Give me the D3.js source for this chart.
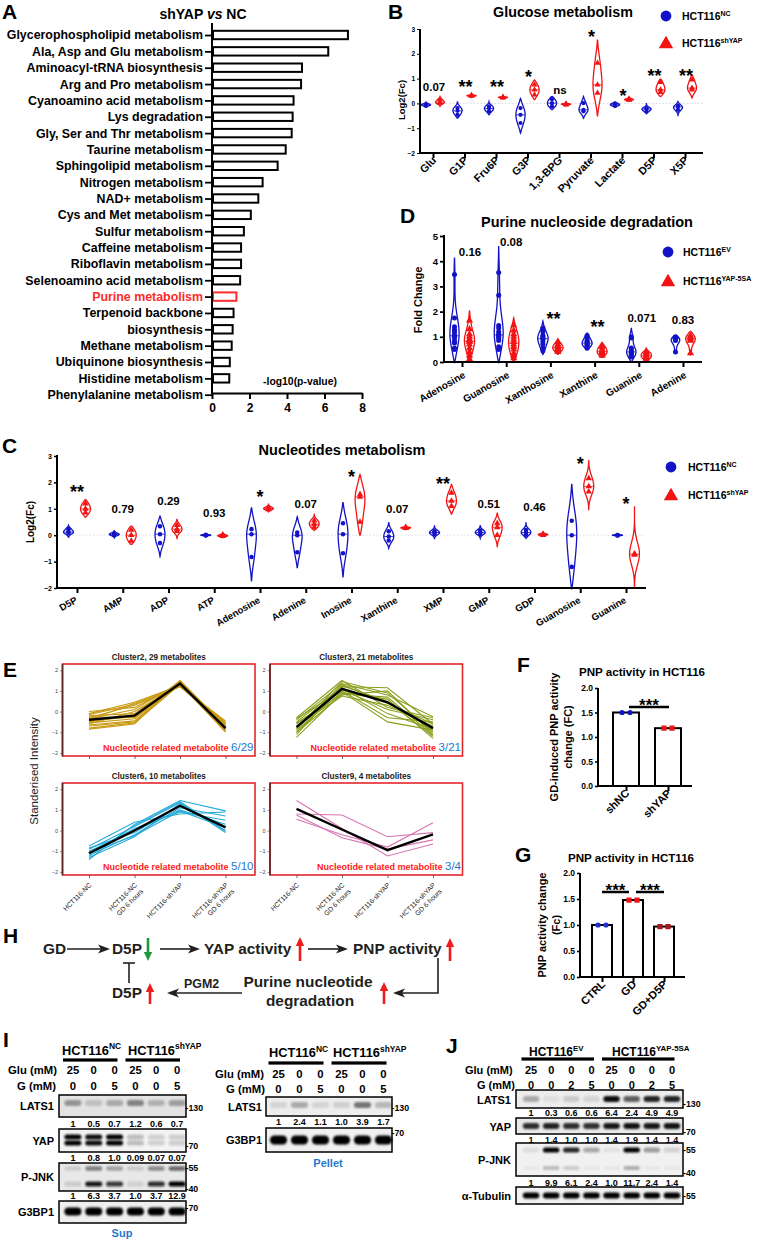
<!DOCTYPE html>
<html><head><meta charset="utf-8">
<script src="https://cdnjs.cloudflare.com/ajax/libs/d3/7.8.5/d3.min.js"></script>
<style>
html,body{margin:0;padding:0;background:#fff;}
svg{display:block;}
text{font-family:"Liberation Sans",Arial,Helvetica,sans-serif;}
</style></head><body>
<svg id="fig" width="759" height="1240" viewBox="0 0 759 1240"></svg>
<script>
// ================= DATA =================
// Panel A
const aCategories = ["Glycerophospholipid metabolism","Ala, Asp and Glu metabolism","Aminoacyl-tRNA biosynthesis","Arg and Pro metabolism","Cyanoamino acid metabolism","Lys degradation","Gly, Ser and Thr metabolism","Taurine metabolism","Sphingolipid metabolism","Nitrogen metabolism","NAD+ metabolism","Cys and Met metabolism","Sulfur metabolism","Caffeine metabolism","Riboflavin metabolism","Selenoamino acid metabolism","Purine metabolism","Terpenoid backbone","biosynthesis","Methane metabolism","Ubiquinone biosynthesis","Histidine metabolism","Phenylalanine metabolism"];
const aValues = [7.25,6.2,4.8,4.75,4.35,4.3,4.25,3.93,3.5,2.7,2.47,2.07,1.7,1.55,1.55,1.5,1.3,1.15,1.1,1.05,0.95,0.92,0];
const aTicks = [0,2,4,6,8];
const aHighlight = "Purine metabolism";

// Panel B (log2 fold change)
const bCategories = ["Glu","G1P","Fru6P","G3P","1,3-BPG","Pyruvate","Lactate","D5P","X5P"];
const bNCPoints = [[-0.03,-0.06,-0.1],[-0.19,-0.3,-0.46],[-0.12,-0.2,-0.32],[-0.19,-0.46,-0.79],[0.17,0.01,-0.12],[0.01,-0.26,-0.32],[0,-0.05,-0.1],[-0.2,-0.23,-0.32],[-0.1,-0.14,-0.26]];
const bNCRange = [[-0.15,0.05],[-0.6,0.08],[-0.46,0.08],[-1.2,0.2],[-0.25,0.28],[-0.6,0.28],[-0.14,0.04],[-0.42,0.02],[-0.52,0.08]];
const bShPoints = [[0.15,0.04,0.02],[0.3,0.31,0.33],[0.23,0.24,0.26],[0.75,0.55,0.35],[-0.02,-0.03,-0.05],[1.63,0.75,0.42],[0.19,0.15,0.14],[0.85,0.55,0.45],[0.95,0.62,0.55]];
const bShRange = [[-0.12,0.28],[0.25,0.38],[0.19,0.3],[0.15,0.95],[-0.1,0.03],[-0.52,2.57],[0.1,0.24],[0.28,0.98],[0.22,1.15]];
const bSig = ["0.07","**","**","*","ns","*","*","**","**"];
const bSigAt = [0.66,0.86,0.86,1.23,0.54,2.84,0.46,1.27,1.27];
const bTicks = [-2,-1,0,1,2,3];

// Panel C (log2 fold change)
const cCategories = ["D5P","AMP","ADP","ATP","Adenosine","Adenine","Inosine","Xanthine","XMP","GMP","GDP","Guanosine","Guanine"];
const cNCPoints = [[0.23,0.12,0.08],[0.06,0.03,0.0],[0.34,0.04,-0.3],[0.02,0.0,-0.01],[0.23,0.04,-0.83],[0.1,0.0,-0.65],[0.45,0.04,-0.68],[0.15,-0.05,-0.2],[0.15,0.1,0.05],[0.18,0.1,0.05],[0.2,0.1,0.02],[0.55,0.0,-1.2],[0.01,0.0,-0.01]];
const cNCRange = [[-0.1,0.38],[-0.1,0.2],[-0.8,0.72],[-0.05,0.05],[-1.75,1.05],[-1.25,0.7],[-1.6,1.25],[-0.5,0.5],[-0.15,0.38],[-0.12,0.38],[-0.12,0.5],[-2.0,1.95],[-0.05,0.05]];
const cShPoints = [[1.2,1.0,0.85],[0.2,0.0,-0.22],[0.38,0.23,0.15],[0.02,-0.02,-0.04],[1.05,1.0,0.98],[0.55,0.42,0.3],[1.55,1.45,0.5],[0.27,0.28,0.3],[1.6,1.3,1.1],[0.45,0.3,0.0],[0.02,0.05,0.0],[2.15,1.85,1.65],[-0.7,-0.72,-0.75]];
const cShRange = [[0.68,1.35],[-0.35,0.35],[-0.15,0.62],[-0.1,0.06],[0.88,1.2],[0.18,0.78],[0.0,2.3],[0.22,0.35],[0.8,1.92],[-0.45,0.85],[-0.03,0.12],[0.95,2.85],[-2.0,1.1]];
const cSig = ["**","0.79","0.29","0.93","*","0.07","*","0.07","**","0.51","0.46","*","*"];
const cSigAt = [1.81,0.98,1.28,0.83,1.62,1.17,2.38,0.98,2.11,1.17,1.05,2.87,1.36];
const cTicks = [-2,-1,0,1,2,3];

// Panel D (fold change)
const dCategories = ["Adenosine","Guanosine","Xanthosine","Xanthine","Guanine","Adenine"];
const dEVPoints = [[3.47,1.75,1.4,1.28,1.2,1.08,1.0,0.95,0.82,0.75,0.55,0.5],[3.55,2.65,1.45,1.35,1.2,1.1,1.05,1.0,0.95,0.85,0.6,0.5],[1.35,1.2,1.05,1.0,0.95,0.9,0.8,0.7,0.55,0.45],[1.05,0.95,0.85,0.8,0.75,0.7,0.65,0.6,0.55],[1.0,0.95,0.55,0.45,0.4,0.35,0.3,0.25,0.2],[1.0,0.98,0.95,0.9,0.85,0.4]];
const dEVRange = [[0,4.15],[0,4.6],[0.3,1.62],[0.5,1.15],[0,1.35],[0.35,1.05]];
const d5SAPoints = [[1.65,1.3,1.1,1.0,0.9,0.85,0.8,0.7,0.55,0.4,0.25,0.12],[1.45,1.25,1.1,1.0,0.9,0.8,0.7,0.6,0.5,0.35,0.25,0.15],[0.8,0.7,0.65,0.6,0.55,0.5,0.45,0.4],[0.65,0.6,0.5,0.45,0.4,0.35,0.3,0.25],[0.4,0.35,0.3,0.25,0.2,0.15,0.1],[1.05,1.0,0.95,0.9,0.85,0.35]];
const d5SARange = [[0.02,2.05],[0.02,1.75],[0.3,0.92],[0.18,0.78],[0.0,0.58],[0.28,1.22]];
const dSig = ["0.16","0.08","**","**","0.071","0.83"];
const dSigAt = [4.37,4.76,1.9,1.55,1.75,1.67];
const dTicks = [0,1,2,3,4,5];

// Panel E (standardised intensity)
const eConditions = ["HCT116-NC","HCT116-NC GD 6 hours","HCT116-shYAP","HCT116-shYAP GD 6 hours"];
const eLabelLines = [["HCT116-NC"],["HCT116-NC","GD 6 hours"],["HCT116-shYAP"],["HCT116-shYAP","GD 6 hours"]];
const eTitles = ["Cluster2, 29 metabolites","Cluster3, 21 metabolites","Cluster6, 10 metabolites","Cluster9, 4 metabolites"];
const eFractions = ["6/29","3/21","5/10","3/4"];
const eTicks = [-2,-1,0,1,2];
const c2Lines = [[-0.55,-0.35,1.35,-0.75],[-0.8,-0.55,1.3,-0.95],[-0.3,0.3,1.2,-0.6],[-0.1,0.45,1.25,-0.5],[-0.2,-0.1,1.45,-0.9],[-0.65,-0.45,1.4,-0.85],[0.0,0.2,1.3,-0.55],[-0.45,-0.25,1.5,-0.7],[-0.35,0.1,1.4,-0.65],[-0.7,-0.5,1.35,-1.0],[-0.15,0.35,1.2,-0.45],[-0.5,-0.15,1.45,-0.8],[-0.25,-0.3,1.35,-0.95],[-0.6,0.0,1.3,-0.6],[-0.4,0.4,1.25,-0.75],[-0.85,-0.6,1.5,-0.85]];
const c2Mean = [-0.4,-0.2,1.35,-0.8];
const c3Lines = [[-1.25,0.9,0.6,-1.3],[-0.3,1.5,0.2,-0.3],[-0.5,1.2,1.15,-0.6],[-1.0,0.8,1.0,-1.1],[-0.9,0.95,-0.5,-0.9],[-0.4,1.35,0.8,-0.25],[-0.6,1.0,-0.3,-0.5],[-1.1,1.25,0.5,-1.2],[-0.7,0.75,0.3,-0.7],[-0.8,1.45,0.9,-1.0],[-0.35,1.05,0.1,-0.4],[-1.0,1.15,-0.1,-0.85],[-0.55,0.85,0.7,-1.15],[-0.85,1.3,0.4,-0.6]];
const c3Mean = [-0.75,1.1,0.45,-0.8];
const c6Lines = [[-1.4,0.3,1.45,0.95],[-0.75,0.4,0.8,0.9],[-1.2,-0.2,1.1,0.7],[-1.0,0.0,1.0,0.3],[-0.9,0.2,1.35,-0.1],[-1.3,-0.3,1.3,0.0],[-1.1,0.1,0.9,0.5],[-0.85,-0.1,1.2,0.2],[-1.25,0.25,1.4,-0.05],[-1.05,-0.25,0.95,0.15]];
const c6Mean = [-1.1,0.0,1.2,0.15];
const c9Lines = [[1.45,0.1,-1.23,-0.65],[0.8,0.75,-0.3,-0.1],[0.55,-0.2,-0.8,0.38],[0.75,-0.35,-0.9,-0.45]];
const c9Mean = [1.05,0.05,-0.95,-0.18];

// Panels F and G
const fGroups = ["shNC","shYAP"];
const fMeans = [1.5,1.18];
const fPoints = [[1.5,1.5],[1.18,1.18]];
const gGroups = ["CTRL","GD","GD+D5P"];
const gMeans = [1.0,1.48,0.97];
const gPoints = [[1.0,1.0],[1.48,1.48],[0.97,0.97]];
const pnpTicks = [0,0.5,1.0,1.5,2.0];

// Panels I and J (western blots)
const iGlu = ["25","0","0","25","0","0"];
const iG = ["0","0","5","0","0","5"];
const iSupLATS1 = ["1","0.5","0.7","1.2","0.6","0.7"];
const iSupYAP = ["1","0.8","1.0","0.09","0.07","0.07"];
const iSupPJNK = ["1","6.3","3.7","1.0","3.7","12.9"];
const iPelletLATS1 = ["1","2.4","1.1","1.0","3.9","1.7"];
const iBandLATS1 = [0.35,0.15,0.25,0.42,0.22,0.3];
const iBandYAP = [1,0.95,1,0.22,0.14,0.15];
const iBandPJNKup = [0.12,0.45,0.3,0.12,0.4,0.55];
const iBandPJNKlow = [0.12,0.9,0.75,0.1,0.8,1.0];
const iBandG3BP1 = [1,1,1,1,1,1];
const iBandPelLATS1 = [0.1,0.28,0.1,0.12,0.5,0.22];
const jGlu = ["25","0","0","0","25","0","0","0"];
const jG = ["0","0","2","5","0","0","2","5"];
const jLATS1 = ["1","0.3","0.6","0.6","6.4","2.4","4.9","4.9"];
const jYAP = ["1","1.4","1.0","1.0","1.4","1.9","1.4","1.4"];
const jPJNK = ["1","9.9","6.1","2.4","1.0","11.7","2.4","1.4"];
const jBandLATS1 = [0.28,0.06,0.14,0.1,0.95,0.6,0.85,0.85];
const jBandYAP = [0.8,0.85,0.8,0.78,0.9,0.92,0.9,0.92];
const jBandPJNKup = [0.08,1,0.85,0.3,0.06,1,0.35,0.12];
const jBandPJNKlow = [0.04,0.22,0.15,0.04,0.04,0.28,0.04,0.04];
const jBandTub = [1,1,1,1,1,1,1,1];

// ================= DRAWING =================
const svg = d3.select("#fig");
svg.append("rect").attr("width",759).attr("height",1240).attr("fill","#fff");
const defs = svg.append("defs");
defs.append("filter").attr("id","blur").attr("x","-30%").attr("y","-80%").attr("width","160%").attr("height","260%")
  .append("feGaussianBlur").attr("stdDeviation",1.1);
const BLUE = "#1212c6", RED = "#f21414", LBLUE = "#1f78cc";
const intFmt = d3.format("d");

function T(g, x, y, s, size, o = {}) {
  const t = g.append("text").attr("x", x).attr("y", y).attr("font-size", size)
    .attr("font-weight", o.weight || "bold").attr("text-anchor", o.anchor || "start")
    .attr("fill", o.fill || "#000").text(s);
  if (o.rotate !== undefined) t.attr("transform", `rotate(${o.rotate},${x},${y})`);
  if (o.style) t.attr("font-style", o.style);
  return t;
}
function supText(g, x, y, base, sup, size, supSize, anchor) {
  const t = g.append("text").attr("x", x).attr("y", y).attr("font-size", size)
    .attr("font-weight", "bold").attr("text-anchor", anchor || "start");
  t.append("tspan").text(base);
  t.append("tspan").attr("dy", -size * 0.4).attr("font-size", supSize).text(sup);
  return t;
}
function violin(g, cx, y, pts, rng, color, halfW, shape, ptSize) {
  const lo = rng[0], hi = rng[1], R = hi - lo;
  const n = pts.length, sd = d3.deviation(pts) || 0;
  const h = Math.max(1.06 * sd * Math.pow(n, -0.2), R / 7, 1e-3);
  const N = 60;
  const prof = d3.range(N + 1).map(i => {
    const v = lo + R * i / N;
    return { v, i, d: d3.sum(pts, p => Math.exp(-0.5 * ((v - p) / h) ** 2)) };
  });
  const mx = d3.max(prof, p => p.d);
  prof.forEach(p => { p.w = halfW * (p.d / mx) * Math.pow(Math.sin(Math.PI * p.i / N), 0.4); });
  const area = d3.area().curve(d3.curveBasis).y(p => y(p.v)).x0(p => cx - p.w).x1(p => cx + p.w);
  g.append("path").attr("d", area(prof)).attr("fill", "#fff").attr("stroke", color).attr("stroke-width", 1.3);
  const med = d3.median(pts);
  const pm = prof[Math.max(0, Math.min(N, Math.round((med - lo) / R * N)))];
  g.append("line").attr("x1", cx - pm.w).attr("x2", cx + pm.w).attr("y1", y(med)).attr("y2", y(med))
    .attr("stroke", color).attr("stroke-width", 0.8);
  const sym = d3.symbol().type(shape === "tri" ? d3.symbolTriangle : d3.symbolCircle).size(ptSize);
  g.selectAll(null).data(pts).join("path").attr("d", sym)
    .attr("transform", p => `translate(${cx},${y(p)})`).attr("fill", color);
}
function legend(g, x, y1, y2, sup1, sup2, tx) {
  g.append("circle").attr("cx", x).attr("cy", y1).attr("r", 5.4).attr("fill", BLUE);
  g.append("path").attr("d", d3.symbol().type(d3.symbolTriangle).size(90)())
    .attr("transform", `translate(${x},${y2 + 1})`).attr("fill", RED);
  supText(g, tx, y1 + 4, "HCT116", sup1, 10.5, 7);
  supText(g, tx, y2 + 4, "HCT116", sup2, 10.5, 7);
}
function sigText(g, x, cy, s, numSize) {
  const ast = s.indexOf("*") >= 0;
  if (ast) T(g, x, cy + 10.5, s, 18, { anchor: "middle" });
  else if (s === "ns") T(g, x, cy + 3.5, s, numSize, { anchor: "middle" });
  else T(g, x, cy + 4, s, numSize, { anchor: "middle" });
}

// panel letters
[["A",2,19],["B",388,19],["D",400,223],["C",2,453],["E",3,677],["F",517,672],["G",515,862],["H",3,943],["I",3,1047],["J",446,1053]]
  .forEach(p => T(svg, p[1], p[2], p[0], 21));

// ---------- Panel A ----------
(function () {
  const g = svg.append("g");
  const x = d3.scaleLinear().domain([0, 8]).range([212, 362]);
  const y = d3.scalePoint().domain(aCategories).range([35, 394.7]);
  g.selectAll("rect").data(aCategories).join("rect")
    .attr("x", x(0) + 1).attr("y", d => y(d) - 4.2).attr("height", 8.4)
    .attr("width", (d, i) => Math.max(0, x(aValues[i]) - x(0) - 1))
    .attr("fill", "#fff").attr("stroke", d => d === aHighlight ? "#ff2a2a" : "#000").attr("stroke-width", 2)
    .style("display", (d, i) => aValues[i] > 0 ? null : "none");
  const ya = g.append("g").attr("transform", "translate(212,0)")
    .call(d3.axisLeft(y).tickSize(7).tickPadding(2).tickSizeOuter(0));
  ya.select(".domain").remove();
  ya.selectAll(".tick line").attr("stroke-width", 1.8);
  ya.selectAll(".tick text").attr("font-size", 12.4).attr("font-weight", "bold")
    .attr("fill", d => d === aHighlight ? "#ff2a2a" : "#000");
  g.append("line").attr("x1", 212).attr("x2", 212).attr("y1", 23).attr("y2", 394).attr("stroke", "#000").attr("stroke-width", 2);
  const xa = g.append("g").attr("transform", "translate(0,393)")
    .call(d3.axisBottom(x).tickValues(aTicks).tickSize(6).tickPadding(4).tickSizeOuter(0));
  xa.select(".domain").attr("stroke-width", 2);
  xa.selectAll(".tick line").attr("stroke-width", 2);
  xa.selectAll(".tick text").attr("font-size", 12).attr("font-weight", "bold");
  const t = g.append("text").attr("x", 203).attr("y", 19).attr("text-anchor", "middle").attr("font-size", 14).attr("font-weight", "bold");
  t.append("tspan").text("shYAP ");
  t.append("tspan").attr("font-style", "italic").text("vs");
  t.append("tspan").text(" NC");
  T(g, 300, 385, "-log10(p-value)", 10.4, { anchor: "middle" });
})();

// ---------- Panel B ----------
(function () {
  const g = svg.append("g");
  const x = d3.scalePoint().domain(bCategories).range([433, 685]);
  const y = d3.scaleLinear().domain([-2, 3]).range([153, 29]);
  g.append("line").attr("x1", 421).attr("x2", 703).attr("y1", y(0)).attr("y2", y(0))
    .attr("stroke", "#c8c8c8").attr("stroke-width", 0.7).attr("stroke-dasharray", "1.5,2");
  bCategories.forEach((c, i) => {
    violin(g, x(c) - 7, y, bNCPoints[i], bNCRange[i], BLUE, 4.6, "circle", 14);
    violin(g, x(c) + 7, y, bShPoints[i], bShRange[i], RED, 4.6, "tri", 16);
  });
  const ya = g.append("g").attr("transform", "translate(420,0)")
    .call(d3.axisLeft(y).tickValues(bTicks).tickFormat(intFmt).tickSize(3).tickPadding(2).tickSizeOuter(0));
  ya.select(".domain").remove();
  ya.selectAll(".tick text").attr("font-size", 6.5).attr("font-weight", "bold");
  g.append("line").attr("x1", 420).attr("x2", 420).attr("y1", 29).attr("y2", 154).attr("stroke", "#000").attr("stroke-width", 2);
  const xa = g.append("g").attr("transform", "translate(0,153)")
    .call(d3.axisBottom(x).tickSize(5).tickFormat(""));
  xa.select(".domain").remove();
  xa.selectAll(".tick line").attr("stroke-width", 2);
  g.append("line").attr("x1", 419).attr("x2", 703).attr("y1", 153).attr("y2", 153).attr("stroke", "#000").attr("stroke-width", 2);
  g.selectAll("text.xl").data(bCategories).join("text").attr("class", "xl")
    .attr("transform", d => `translate(${x(d) + 4},161) rotate(-45)`)
    .attr("text-anchor", "end").attr("font-size", 10.8).attr("font-weight", "bold").text(d => d);
  bSig.forEach((s, i) => sigText(g, x(bCategories[i]) + 1, y(bSigAt[i]), s, 11.5));
  T(g, 402, 100, "Log2(Fc)", 9.5, { anchor: "middle", rotate: -90 }).attr("dy", "0.35em");
  T(g, 563, 17, "Glucose metabolism", 14.3, { anchor: "middle" });
  legend(g, 666, 16, 43, "NC", "shYAP", 682);
})();

// ---------- Panel D ----------
(function () {
  const g = svg.append("g");
  const x = d3.scalePoint().domain(dCategories).range([462, 683]);
  const y = d3.scaleLinear().domain([0, 5]).range([362, 236]);
  dCategories.forEach((c, i) => {
    violin(g, x(c) - 7.5, y, dEVPoints[i], dEVRange[i], BLUE, 5.2, "circle", 20);
    violin(g, x(c) + 7.5, y, d5SAPoints[i], d5SARange[i], RED, 5.2, "tri", 22);
  });
  const ya = g.append("g").attr("transform", "translate(444,0)")
    .call(d3.axisLeft(y).tickValues(dTicks).tickFormat(intFmt).tickSize(4).tickPadding(2).tickSizeOuter(0));
  ya.select(".domain").remove();
  ya.selectAll(".tick line").attr("stroke-width", 1.8);
  ya.selectAll(".tick text").attr("font-size", 9.5).attr("font-weight", "bold");
  g.append("line").attr("x1", 444).attr("x2", 444).attr("y1", 235).attr("y2", 363).attr("stroke", "#000").attr("stroke-width", 2);
  const xa = g.append("g").attr("transform", "translate(0,362)")
    .call(d3.axisBottom(x).tickSize(5).tickFormat(""));
  xa.select(".domain").remove();
  xa.selectAll(".tick line").attr("stroke-width", 2);
  g.append("line").attr("x1", 443).attr("x2", 702).attr("y1", 362).attr("y2", 362).attr("stroke", "#000").attr("stroke-width", 2);
  g.selectAll("text.xl").data(dCategories).join("text").attr("class", "xl")
    .attr("transform", d => `translate(${x(d) + 4},377) rotate(-30)`)
    .attr("text-anchor", "end").attr("font-size", 10).attr("font-weight", "bold").text(d => d);
  const dx = [8, 5, 3, 3, 3, 0];
  dSig.forEach((s, i) => sigText(g, x(dCategories[i]) + dx[i], y(dSigAt[i]), s, 11.5));
  T(g, 418, 300, "Fold Change", 11, { anchor: "middle", rotate: -90 }).attr("dy", "0.35em");
  T(g, 587, 227, "Purine nucleoside degradation", 14.5, { anchor: "middle" });
  legend(g, 668, 252, 281, "EV", "YAP-5SA", 683);
})();

// ---------- Panel C ----------
(function () {
  const g = svg.append("g");
  const x = d3.scalePoint().domain(cCategories).range([77, 626]);
  const y = d3.scaleLinear().domain([-2, 3]).range([588, 456]);
  g.append("line").attr("x1", 58).attr("x2", 646).attr("y1", y(0)).attr("y2", y(0))
    .attr("stroke", "#cfcfe8").attr("stroke-width", 0.7).attr("stroke-dasharray", "1.5,2");
  cCategories.forEach((c, i) => {
    violin(g, x(c) - 8.5, y, cNCPoints[i], cNCRange[i], BLUE, 5, "circle", 16);
    violin(g, x(c) + 8.5, y, cShPoints[i], cShRange[i], RED, 5, "tri", 18);
  });
  const ya = g.append("g").attr("transform", "translate(57,0)")
    .call(d3.axisLeft(y).tickValues(cTicks).tickFormat(intFmt).tickSize(3).tickPadding(2).tickSizeOuter(0));
  ya.select(".domain").remove();
  ya.selectAll(".tick line").attr("stroke-width", 1.5);
  ya.selectAll(".tick text").attr("font-size", 7).attr("font-weight", "bold");
  g.append("line").attr("x1", 57).attr("x2", 57).attr("y1", 455).attr("y2", 589).attr("stroke", "#000").attr("stroke-width", 2);
  const xa = g.append("g").attr("transform", "translate(0,588)")
    .call(d3.axisBottom(x).tickSize(5).tickFormat(""));
  xa.select(".domain").remove();
  xa.selectAll(".tick line").attr("stroke-width", 2);
  g.append("line").attr("x1", 56).attr("x2", 646).attr("y1", 588).attr("y2", 588).attr("stroke", "#000").attr("stroke-width", 2);
  g.selectAll("text.xl").data(cCategories).join("text").attr("class", "xl")
    .attr("transform", d => `translate(${x(d) + 1},602) rotate(-30)`)
    .attr("text-anchor", "end").attr("font-size", 9.6).attr("font-weight", "bold").text(d => d);
  cSig.forEach((s, i) => sigText(g, x(cCategories[i]), y(cSigAt[i]), s, 11.5));
  T(g, 30, 522, "Log2(Fc)", 10, { anchor: "middle", rotate: -90 }).attr("dy", "0.35em");
  T(g, 342, 455, "Nucleotides metabolism", 14.5, { anchor: "middle" });
  legend(g, 671, 467, 495, "NC", "shYAP", 688);
})();

// ---------- Panel E ----------
(function () {
  const g = svg.append("g");
  const boxes = [[62.5, 664], [270, 664], [62.5, 783], [270, 783]];
  const lineSets = [c2Lines, c3Lines, c6Lines, c9Lines];
  const means = [c2Mean, c3Mean, c6Mean, c9Mean];
  const colors = ["#c99a14", "#8c9e1c", "#27a9d8", "#d874b2"];
  const W = 192.5, H = 92;
  boxes.forEach((b, k) => {
    const x0 = b[0], y0 = b[1];
    const x = d3.scalePoint().domain(eConditions).range([x0 + 26.5, x0 + 163]);
    const y = d3.scaleLinear().domain([-2.15, 2.3]).range([y0 + H, y0]);
    const line = d3.line().x((d, i) => x(eConditions[i])).y(d => y(d));
    g.selectAll(null).data(lineSets[k]).join("path").attr("d", line)
      .attr("fill", "none").attr("stroke", colors[k]).attr("stroke-width", 1.1);
    g.append("path").attr("d", line(means[k])).attr("fill", "none").attr("stroke", "#000").attr("stroke-width", 2.4);
    g.append("rect").attr("x", x0).attr("y", y0).attr("width", W).attr("height", H)
      .attr("fill", "none").attr("stroke", "#e3262b").attr("stroke-width", 1.6);
    g.append("line").attr("x1", x0).attr("x2", x0).attr("y1", y0).attr("y2", y0 + H).attr("stroke", "#5a2620").attr("stroke-width", 1.6);
    const ya = g.append("g").attr("transform", `translate(${x0},0)`)
      .call(d3.axisLeft(y).tickValues(eTicks).tickSize(2.5).tickPadding(2).tickFormat(d => d === 0 ? "0" : (d < 0 ? "\u2212" + (-d) : d)));
    ya.select(".domain").remove();
    ya.selectAll(".tick line").attr("stroke", "#444").attr("stroke-width", 0.6);
    ya.selectAll(".tick text").attr("font-size", 5.5).attr("fill", "#444");
    const xa = g.append("g").attr("transform", `translate(0,${y0 + H})`)
      .call(d3.axisBottom(x).tickSize(3).tickFormat(""));
    xa.select(".domain").remove();
    xa.selectAll(".tick line").attr("stroke", "#444").attr("stroke-width", 0.8);
    T(g, x0 + W / 2, y0 - 4, eTitles[k], 8.2, { anchor: "middle", fill: "#222" });
    const ft = g.append("text").attr("x", x0 + W - 1.5).attr("y", y0 + 86.5).attr("text-anchor", "end");
    ft.append("tspan").attr("font-size", 9).attr("font-weight", "bold").attr("fill", "#ff2020").text("Nucleotide related metabolite ");
    ft.append("tspan").attr("font-size", 11.5).attr("fill", LBLUE).text(eFractions[k]);
    if (k >= 2) {
      eLabelLines.forEach((ls, i) => {
        const tl = g.append("text").attr("transform", `translate(${x(eConditions[i]) + 3},885.5) rotate(-45)`)
          .attr("text-anchor", "end").attr("font-size", 6.8).attr("fill", "#222");
        ls.forEach((s, j) => tl.append("tspan").attr("x", 0).attr("dy", j === 0 ? 0 : "1.3em").text(s));
      });
    }
  });
  T(g, 34, 771, "Standerised Intensity", 11.5, { anchor: "middle", rotate: -90, weight: "normal", fill: "#222" }).attr("dy", "0.35em");
})();

// ---------- Bar panels F & G ----------
function pnpPanel(groups, means, points, ax, x0, x1, yTop, yBot, bw, ptColors, title, titleX, titleY, ylab, ylabX, sigs) {
  const g = svg.append("g");
  const x = d3.scalePoint().domain(groups).range([x0, x1]);
  const y = d3.scaleLinear().domain([0, 2]).range([yBot, yTop]);
  g.selectAll("rect").data(groups).join("rect")
    .attr("x", d => x(d) - bw / 2).attr("width", bw)
    .attr("y", (d, i) => y(means[i])).attr("height", (d, i) => y(0) - y(means[i]))
    .attr("fill", "#fff").attr("stroke", "#000").attr("stroke-width", 2);
  groups.forEach((gr, i) => {
    g.selectAll(null).data(points[i]).join("rect")
      .attr("x", (d, j) => x(gr) + (j === 0 ? -4 : 4) - 2.6).attr("y", d => y(d) - 2.6)
      .attr("width", 5.2).attr("height", 5.2).attr("rx", ptColors[i][1] ? 2.6 : 0.5)
      .attr("fill", ptColors[i][0]);
  });
  const ya = g.append("g").attr("transform", `translate(${ax},0)`)
    .call(d3.axisLeft(y).tickValues(pnpTicks).tickSize(3).tickPadding(2).tickFormat(d3.format(".1f")).tickSizeOuter(0));
  ya.select(".domain").remove();
  ya.selectAll(".tick line").attr("stroke-width", 1.6);
  ya.selectAll(".tick text").attr("font-size", 8.5).attr("font-weight", "bold");
  g.append("line").attr("x1", ax).attr("x2", ax).attr("y1", yTop).attr("y2", yBot + 1).attr("stroke", "#000").attr("stroke-width", 2);
  const xa = g.append("g").attr("transform", `translate(0,${yBot})`).call(d3.axisBottom(x).tickSize(5).tickFormat(""));
  xa.select(".domain").remove();
  xa.selectAll(".tick line").attr("stroke-width", 2);
  g.append("line").attr("x1", ax - 1).attr("x2", x1 + bw / 2 + 11).attr("y1", yBot).attr("y2", yBot).attr("stroke", "#000").attr("stroke-width", 2);
  g.selectAll("text.xl").data(groups).join("text").attr("class", "xl")
    .attr("transform", d => `translate(${x(d) + 4},${yBot + 8}) rotate(-45)`)
    .attr("text-anchor", "end").attr("font-size", 11).attr("font-weight", "bold").text(d => d);
  T(g, titleX, titleY, title, 11.6, { anchor: "middle" });
  const lt = g.append("text").attr("transform", `translate(${ylabX},${(yTop + yBot) / 2}) rotate(-90)`)
    .attr("text-anchor", "middle").attr("font-size", 11).attr("font-weight", "bold");
  ylab.forEach((s, j) => lt.append("tspan").attr("x", 0).attr("y", j * 14).text(s));
  sigs.forEach(s => {
    g.append("line").attr("x1", s[0]).attr("x2", s[1]).attr("y1", s[2]).attr("y2", s[2]).attr("stroke", "#000").attr("stroke-width", 2.5);
    T(g, (s[0] + s[1]) / 2, s[2] + 3.5, "***", 17, { anchor: "middle" });
  });
}
pnpPanel(fGroups, fMeans, fPoints, 598, 626, 668, 688, 786, 26, [[BLUE, true], [RED, false]],
  "PNP activity in HCT116", 642, 676, ["GD-induced PNP activity", "change (FC)"], 558, [[629, 669, 707]]);
pnpPanel(gGroups, gMeans, gPoints, 580, 602, 664, 873, 977, 20, [["#2030d0", true], [RED, false], ["#a81818", false]],
  "PNP activity in HCT116", 631, 862, ["PNP activity change", "(Fc)"], 546, [[602, 629, 892], [636, 664, 892]]);

// ---------- Panel H ----------
(function () {
  const g = svg.append("g");
  const K = "#231f20";
  const o = { fill: K };
  T(g, 43, 954, "GD", 15.4, o);
  T(g, 112, 954, "D5P", 15.4, o);
  T(g, 204, 954, "YAP activity", 15.4, o);
  T(g, 353, 954, "PNP activity", 15.4, o);
  T(g, 112, 998, "D5P", 15.4, o);
  T(g, 308, 987, "Purine nucleotide", 15.4, { anchor: "middle", fill: K });
  T(g, 310, 1006, "degradation", 15.4, { anchor: "middle", fill: K });
  T(g, 184, 988, "PGM2", 12.4, o);
  function arrowH(x1, x2, yy) {
    const dir = Math.sign(x2 - x1);
    g.append("line").attr("x1", x1).attr("x2", x2 - dir * 8).attr("y1", yy).attr("y2", yy).attr("stroke", K).attr("stroke-width", 1.6);
    g.append("path").attr("d", `M${x2},${yy}L${x2 - dir * 12},${yy - 4.5}L${x2 - dir * 9},${yy}L${x2 - dir * 12},${yy + 4.5}Z`).attr("fill", K);
  }
  function arrowV(xx, y1, y2, color) {
    const dir = Math.sign(y2 - y1);
    g.append("line").attr("x1", xx).attr("x2", xx).attr("y1", y1).attr("y2", y2 - dir * 7).attr("stroke", color).attr("stroke-width", 2.6);
    g.append("path").attr("d", `M${xx},${y2}L${xx - 4.2},${y2 - dir * 9}L${xx + 4.2},${y2 - dir * 9}Z`).attr("fill", color);
  }
  arrowH(67, 110, 949);
  arrowH(160, 200, 949);
  arrowH(308, 348, 949);
  arrowH(242, 167, 993);
  g.append("path").attr("d", "M438,958V993H402").attr("fill", "none").attr("stroke", K).attr("stroke-width", 1.6);
  g.append("path").attr("d", "M393,993L405,988.5L402,993L405,997.5Z").attr("fill", K);
  arrowV(148, 938, 961, "#1e9a3c");
  arrowV(300, 961, 937, "#ee1c1c");
  arrowV(450, 961, 938, "#ee1c1c");
  arrowV(384, 1004, 982, "#ee1c1c");
  arrowV(150, 1004, 983, "#ee1c1c");
  g.append("line").attr("x1", 129).attr("x2", 129).attr("y1", 963).attr("y2", 983).attr("stroke", K).attr("stroke-width", 1.6);
  g.append("line").attr("x1", 123).attr("x2", 135).attr("y1", 963).attr("y2", 963).attr("stroke", K).attr("stroke-width", 1.6);
})();

// ---------- Western blots ----------
function blot(g, lanes, x0, x1, y0, y1, bg, bands) {
  g.append("rect").attr("x", x0).attr("y", y0).attr("width", x1 - x0).attr("height", y1 - y0)
    .attr("fill", bg).attr("stroke", "#000").attr("stroke-width", 1.5);
  const bw = lanes.bandwidth();
  bands.forEach(b => {
    g.selectAll(null).data(b.vals).join("rect")
      .attr("x", (d, i) => lanes(i) + bw * 0.09).attr("width", bw * 0.82)
      .attr("y", b.y - b.h / 2).attr("height", b.h).attr("rx", b.h / 2)
      .attr("fill", "#000").attr("opacity", d => d).attr("filter", "url(#blur)");
  });
}
function laneRow(g, lanes, vals, yy, size) {
  const bw = lanes.bandwidth();
  g.selectAll(null).data(vals).join("text").attr("x", (d, i) => lanes(i) + bw / 2).attr("y", yy)
    .attr("text-anchor", "middle").attr("font-size", size).attr("font-weight", "bold").text(d => d);
}
function header(g, lanes, a, b, txt, sup, tx, ty, size, barY) {
  const bw = lanes.bandwidth();
  g.append("rect").attr("x", lanes(a) + 0.5).attr("y", barY - 1.6).attr("width", lanes(b) + bw - 8 - lanes(a)).attr("height", 3.2).attr("fill", "#000");
  supText(g, tx, ty, txt, sup, size, size * 0.66);
}
(function () {
  const g = svg.append("g");
  // I - Sup
  const L = d3.scaleBand().domain(d3.range(6)).range([62.5, 187.5]);
  header(g, L, 0, 2, "HCT116", "NC", 62, 1054.5, 12.8, 1060);
  header(g, L, 3, 5, "HCT116", "shYAP", 128, 1054.5, 12.8, 1060);
  T(g, 8, 1074, "Glu (mM)", 11.3); laneRow(g, L, iGlu, 1074, 11.3);
  T(g, 17, 1090, "G (mM)", 11.3); laneRow(g, L, iG, 1090, 11.3);
  blot(g, L, 59, 186, 1095, 1117, "#e3e3e3", [{ y: 1103, h: 6, vals: iBandLATS1 }]);
  blot(g, L, 59, 186, 1129, 1152, "#f3f3f3", [{ y: 1137, h: 5, vals: iBandYAP }, { y: 1143, h: 5, vals: iBandYAP }]);
  blot(g, L, 59, 186, 1163, 1191, "#e8e8e8", [{ y: 1168.5, h: 4.5, vals: iBandPJNKup }, { y: 1184, h: 5, vals: iBandPJNKlow }]);
  blot(g, L, 59, 186, 1201, 1223, "#efefef", [{ y: 1211.5, h: 8, vals: iBandG3BP1 }]);
  T(g, 54, 1110, "LATS1", 11, { anchor: "end" });
  T(g, 54, 1145, "YAP", 11, { anchor: "end" });
  T(g, 54, 1181, "P-JNK", 11, { anchor: "end" });
  T(g, 54, 1216, "G3BP1", 11, { anchor: "end" });
  laneRow(g, L, iSupLATS1, 1127, 9);
  laneRow(g, L, iSupYAP, 1161, 9);
  laneRow(g, L, iSupPJNK, 1199, 9);
  [["-130", 1111], ["-70", 1149], ["-55", 1171], ["-40", 1192], ["-70", 1211]].forEach(m => T(g, 185.5, m[1], m[0], 8.8));
  T(g, 122, 1237, "Sup", 11, { anchor: "middle", fill: LBLUE });
  // I - Pellet
  const P = d3.scaleBand().domain(d3.range(6)).range([268, 394]);
  header(g, P, 0, 2, "HCT116", "NC", 269, 1057, 12.8, 1063);
  header(g, P, 3, 5, "HCT116", "shYAP", 333, 1057, 12.8, 1063);
  T(g, 215, 1078, "Glu (mM)", 11.3); laneRow(g, P, iGlu, 1078, 11.3);
  T(g, 226, 1093, "G (mM)", 11.3); laneRow(g, P, iG, 1093, 11.3);
  blot(g, P, 266, 392, 1097, 1116, "#ededed", [{ y: 1105, h: 6, vals: iBandPelLATS1 }]);
  blot(g, P, 266, 392, 1128, 1152, "#f0f0f0", [{ y: 1140, h: 9, vals: iBandG3BP1 }]);
  T(g, 262, 1111, "LATS1", 11, { anchor: "end" });
  T(g, 262, 1144, "G3BP1", 11, { anchor: "end" });
  laneRow(g, P, iPelletLATS1, 1125, 9);
  [["-130", 1111], ["-70", 1136]].forEach(m => T(g, 391.5, m[1], m[0], 8.8));
  T(g, 328, 1167, "Pellet", 11, { anchor: "middle", fill: LBLUE });
  // J
  const J = d3.scaleBand().domain(d3.range(8)).range([521, 682]);
  header(g, J, 0, 3, "HCT116", "EV", 529, 1056, 12, 1059);
  header(g, J, 4, 7, "HCT116", "YAP-5SA", 612, 1056, 12, 1059);
  T(g, 465, 1074, "Glu (mM)", 11); laneRow(g, J, jGlu, 1074, 11);
  T(g, 477, 1089, "G (mM)", 11); laneRow(g, J, jG, 1089, 11);
  blot(g, J, 516, 683, 1090, 1108, "#ededed", [{ y: 1099, h: 6, vals: jBandLATS1 }]);
  blot(g, J, 516, 683, 1118, 1134, "#e9e9e9", [{ y: 1126, h: 6, vals: jBandYAP }]);
  blot(g, J, 516, 683, 1143, 1176, "#f1f1f1", [{ y: 1150, h: 5, vals: jBandPJNKup }, { y: 1168, h: 4, vals: jBandPJNKlow }]);
  blot(g, J, 516, 683, 1187, 1204, "#f1f1f1", [{ y: 1195.5, h: 6, vals: jBandTub }]);
  T(g, 511, 1104, "LATS1", 11, { anchor: "end" });
  T(g, 511, 1131, "YAP", 11, { anchor: "end" });
  T(g, 511, 1164, "P-JNK", 11, { anchor: "end" });
  T(g, 511, 1200, "\u03b1-Tubulin", 11, { anchor: "end" });
  laneRow(g, J, jLATS1, 1116, 9);
  laneRow(g, J, jYAP, 1143, 9);
  laneRow(g, J, jPJNK, 1186, 9);
  [["-130", 1107], ["-70", 1135], ["-55", 1153], ["-40", 1176], ["-55", 1199]].forEach(m => T(g, 683, m[1], m[0], 8.8));
})();
</script>
</body></html>
